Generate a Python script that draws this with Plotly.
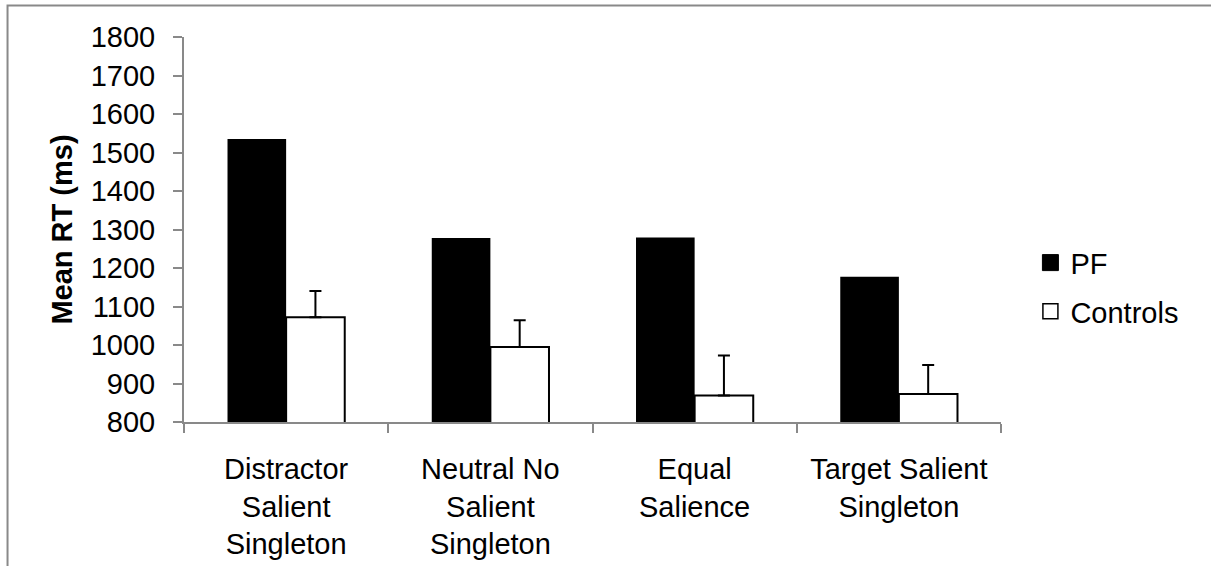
import plotly.graph_objects as go

categories = ["Distractor<br>Salient<br>Singleton", "Neutral No<br>Salient<br>Singleton",
              "Equal<br>Salience", "Target Salient<br>Singleton"]
pf_values = [1535, 1278, 1279, 1177]
controls_values = [1072, 995, 869, 873]
controls_err = [68, 69, 104, 75]
y_ticks = [800, 900, 1000, 1100, 1200, 1300, 1400, 1500, 1600, 1700, 1800]

FONT = "Liberation Sans, Arial, sans-serif"
GRAY = "#898989"

fig = go.Figure()
fig.add_trace(go.Bar(
    x=categories, y=pf_values, name="PF", showlegend=False,
    marker=dict(color="black", line=dict(color="black", width=0)),
))
fig.add_trace(go.Bar(
    x=categories, y=controls_values, name="Controls", showlegend=False,
    marker=dict(color="white", line=dict(color="black", width=2)),
    error_y=dict(type="data", array=controls_err, arrayminus=[0] * len(controls_err),
                 symmetric=False, color="black", thickness=2, width=6),
))
# legend entries
fig.add_trace(go.Scatter(
    x=[None], y=[None], mode="markers", name="PF", legendgroup="a",
    marker=dict(symbol="square", size=16, color="black", line=dict(color="black", width=1)),
))
fig.add_trace(go.Scatter(
    x=[None], y=[None], mode="markers", name="Controls", legendgroup="b",
    marker=dict(symbol="square", size=15, color="white", line=dict(color="black", width=1.5)),
))

fig.update_layout(
    width=1211, height=566,
    margin=dict(l=184, r=210, t=37, b=144, autoexpand=False),
    paper_bgcolor="white", plot_bgcolor="white",
    font=dict(family=FONT, size=29, color="black"),
    barmode="group", bargap=0.426, bargroupgap=0,
    showlegend=True,
    legend=dict(x=1.036, y=0.35, xanchor="left", yanchor="middle",
                font=dict(size=29), tracegroupgap=8, traceorder="grouped",
                bgcolor="rgba(0,0,0,0)"),
    shapes=[dict(type="path", xref="paper", yref="paper",
                 path="M -0.216,-0.5 L -0.216,1.0818 L 1.5,1.0818",
                 line=dict(color=GRAY, width=2))],
)
fig.update_xaxes(
    type="category", showline=True, linecolor=GRAY, linewidth=2, automargin=False,
    ticks="outside", tickson="boundaries", ticklen=9, tickcolor=GRAY, tickwidth=2,
    showgrid=False, tickfont=dict(size=29), ticklabelstandoff=20,
)
fig.update_yaxes(
    range=[800, 1800], tickvals=y_ticks, showline=True, linecolor=GRAY, linewidth=2,
    automargin=False,
    ticks="outside", ticklen=9, tickcolor=GRAY, tickwidth=2, showgrid=False,
    zeroline=False, tickfont=dict(size=29), ticklabelstandoff=12,
    title=dict(text="<b>Mean RT (ms)</b>", font=dict(size=29), standoff=10),
)

fig.write_html("out.html", config={"displayModeBar": False},
               post_script="document.body.style.margin='0';document.body.style.overflow='hidden';")
